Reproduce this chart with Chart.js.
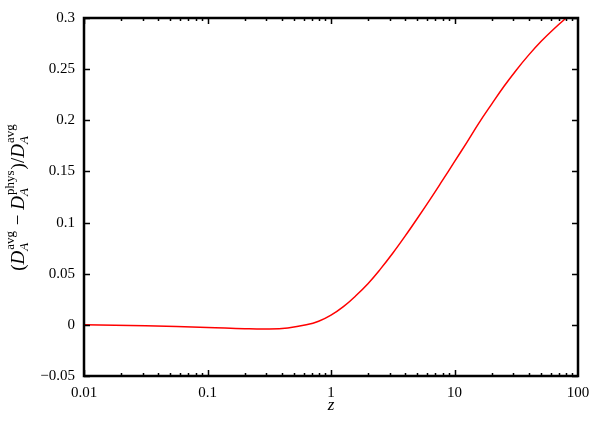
<!DOCTYPE html>
<html>
<head>
<meta charset="utf-8">
<script src="https://cdn.jsdelivr.net/npm/chart.js@4/dist/chart.umd.min.js"></script>
<style>
  html, body { margin: 0; padding: 0; background: #fff; }
  #wrap { width: 607px; height: 425px; position: relative; }
</style>
</head>
<body>
<div id="wrap"><canvas id="c" width="607" height="425"></canvas></div>
<script>
// ---- data ----
const zValues = [0.01, 0.0316, 0.1, 0.2, 0.316, 0.447, 0.631, 0.794,
                 1.0, 1.26, 1.58, 2.0, 2.51, 3.16, 3.98, 5.01, 6.31, 7.94,
                 10, 12.6, 15.8, 20, 25.1, 31.6, 39.8, 50.1, 63.1, 79.4, 100];
const relDiff = [0.0, -0.0009, -0.0025, -0.0038, -0.0041, -0.0030, 0.0000, 0.0035,
                 0.0095, 0.0178, 0.0282, 0.0405, 0.0545, 0.0700, 0.0867, 0.1042, 0.1222, 0.1407,
                 0.1595, 0.1785, 0.1975, 0.2158, 0.2330, 0.2490, 0.2637, 0.2770, 0.2888, 0.2995, 0.3095];
const xTickValues = [0.01, 0.1, 1, 10, 100];
const xTickLabels = ['0.01', '0.1', '1', '10', '100'];
const yTickValues = [-0.05, 0, 0.05, 0.1, 0.15, 0.2, 0.25, 0.3];
const yTickLabels = ['\u22120.05', '0', '0.05', '0.1', '0.15', '0.2', '0.25', '0.3'];
const xTitle = 'z';

const SERIF = '"Liberation Serif", "DejaVu Serif", serif';

const frame = {
  id: 'frame',
  afterDraw(chart) {
    const ctx = chart.ctx;
    const a = chart.chartArea;
    const xs = chart.scales.x, ys = chart.scales.y;
    ctx.save();
    ctx.strokeStyle = '#000';
    ctx.lineWidth = 1.5;
    // minor/major ticks on x (bottom and top)
    for (let d = -2; d < 2; d++) {
      for (let m = 1; m <= 9; m++) {
        const v = m * Math.pow(10, d);
        const px = Math.round(xs.getPixelForValue(v)) + 0.5;
        const len = (m === 1) ? 6 : 3;
        ctx.beginPath();
        ctx.moveTo(px, a.bottom); ctx.lineTo(px, a.bottom - len);
        ctx.moveTo(px, a.top); ctx.lineTo(px, a.top + len);
        ctx.stroke();
      }
    }
    // y ticks (left and right)
    for (const v of yTickValues) {
      const py = Math.round(ys.getPixelForValue(v)) + 0.5;
      ctx.beginPath();
      ctx.moveTo(a.left, py); ctx.lineTo(a.left + 6, py);
      ctx.moveTo(a.right, py); ctx.lineTo(a.right - 6, py);
      ctx.stroke();
    }
    // border
    ctx.lineWidth = 2.5;
    ctx.strokeRect(a.left, a.top, a.right - a.left, a.bottom - a.top);

    // x title
    ctx.fillStyle = '#000';
    ctx.font = 'italic 17px ' + SERIF;
    ctx.textAlign = 'center';
    ctx.textBaseline = 'middle';
    ctx.fillText(xTitle, (a.left + a.right) / 2, 406);

    // y title with sub/superscripts, rotated
    const big = 19, small = 13;
    const segs = [
      { t: '(', f: big + 'px ' + SERIF },
      { t: 'D', f: 'italic ' + big + 'px ' + SERIF },
      { sub: 'A', sup: 'avg' },
      { t: ' \u2212 ', f: big + 'px ' + SERIF },
      { t: 'D', f: 'italic ' + big + 'px ' + SERIF },
      { sub: 'A', sup: 'phys' },
      { t: ')/', f: big + 'px ' + SERIF },
      { t: 'D', f: 'italic ' + big + 'px ' + SERIF },
      { sub: 'A', sup: 'avg' }
    ];
    const subF = 'italic ' + small + 'px ' + SERIF;
    const supF = small + 'px ' + SERIF;
    let total = 0;
    for (const s of segs) {
      if (s.t !== undefined) { ctx.font = s.f; s.w = ctx.measureText(s.t).width; }
      else {
        ctx.font = subF; const w1 = ctx.measureText(s.sub).width;
        ctx.font = supF; const w2 = ctx.measureText(s.sup).width;
        s.w = Math.max(w1, w2) + 2;
      }
      total += s.w;
    }
    ctx.translate(18, (a.top + a.bottom) / 2);
    ctx.rotate(-Math.PI / 2);
    ctx.textAlign = 'left';
    ctx.textBaseline = 'alphabetic';
    let x = -total / 2;
    const base = 6;
    for (const s of segs) {
      if (s.t !== undefined) { ctx.font = s.f; ctx.fillText(s.t, x, base); }
      else {
        ctx.font = subF; ctx.fillText(s.sub, x, base + 4);
        ctx.font = supF; ctx.fillText(s.sup, x + 1, base - 10);
      }
      x += s.w;
    }
    ctx.restore();
  }
};

new Chart(document.getElementById('c'), {
  type: 'line',
  data: {
    datasets: [{
      data: zValues.map((z, i) => ({ x: z, y: relDiff[i] })),
      borderColor: '#ff0000',
      borderWidth: 1.5,
      pointRadius: 0,
      fill: false,
      tension: 0.4
    }]
  },
  options: {
    responsive: false,
    animation: false,
    devicePixelRatio: 1,
    layout: { padding: { top: 18, right: 29, left: 0, bottom: 0 } },
    plugins: { legend: { display: false }, tooltip: { enabled: false } },
    scales: {
      x: {
        type: 'logarithmic',
        min: 0.01, max: 100,
        afterBuildTicks(s) { s.ticks = xTickValues.map(v => ({ value: v })); },
        afterFit(s) { s.height = 49; },
        grid: { display: false, drawTicks: false },
        border: { display: false },
        ticks: {
          autoSkip: false, maxRotation: 0, padding: 8,
          color: '#000',
          font: { family: SERIF, size: 15 },
          callback: (v) => { const i = xTickValues.indexOf(v); return i >= 0 ? xTickLabels[i] : ''; }
        }
      },
      y: {
        type: 'linear',
        min: -0.05, max: 0.3,
        afterBuildTicks(s) { s.ticks = yTickValues.map(v => ({ value: v })); },
        afterFit(s) { s.width = 84; },
        grid: { display: false, drawTicks: false },
        border: { display: false },
        ticks: {
          padding: 9,
          color: '#000',
          font: { family: SERIF, size: 15 },
          callback: (v) => { const i = yTickValues.findIndex(t => Math.abs(t - v) < 1e-9); return i >= 0 ? yTickLabels[i] : ''; }
        }
      }
    }
  },
  plugins: [frame]
});
</script>
</body>
</html>
